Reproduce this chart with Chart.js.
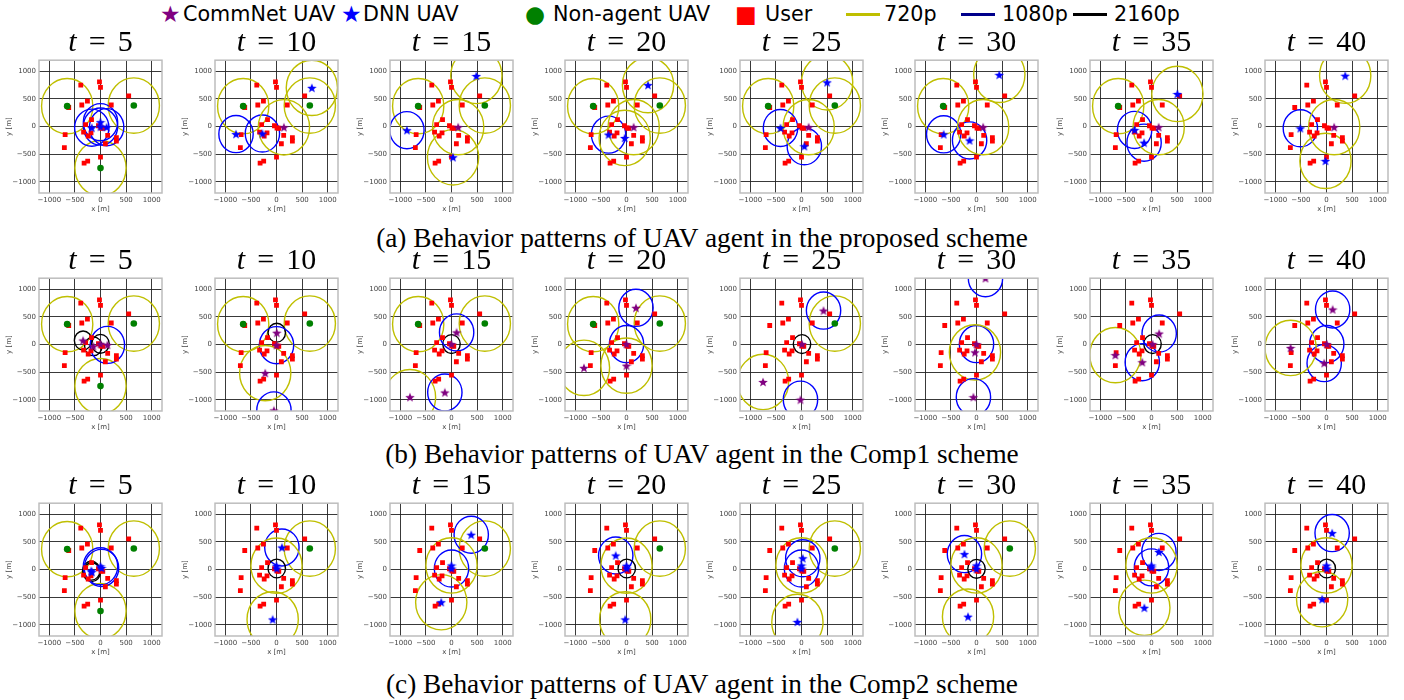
<!DOCTYPE html>
<html>
<head>
<meta charset="utf-8">
<script src="https://cdn.jsdelivr.net/npm/chart.js@4.4.0/dist/chart.umd.min.js"></script>
<style>
body { margin:0; background:#fff; width:1404px; height:700px; position:relative; overflow:hidden; font-family:"DejaVu Sans", sans-serif; }
canvas { position:absolute; }
.ttl { position:absolute; width:123px; text-align:center; font-family:"Liberation Serif", serif; font-size:30px; line-height:30px; white-space:nowrap; }
.ttl i { font-style:italic; }
.ttl span { margin:0 0.4em; }
.cap { position:absolute; left:0; width:1404px; text-align:center; font-family:"Liberation Serif", serif; font-size:27.3px; line-height:28px; }
.lg { position:absolute; top:0px; font-size:20.7px; line-height:28px; white-space:nowrap; }
.ln { position:absolute; top:13px; height:3px; width:34px; }
</style>
</head>
<body>
<span class="lg" style="left:160px;color:#800080;font-size:23px">★</span><span class="lg" style="left:183px">CommNet UAV</span>
<span class="lg" style="left:341px;color:#0000ff;font-size:23px">★</span><span class="lg" style="left:363px">DNN UAV</span>
<span class="lg" style="left:525px;color:#008000;font-size:23px">●</span><span class="lg" style="left:553px">Non-agent UAV</span>
<span class="lg" style="left:735px;color:#ff0000;font-size:23px">■</span><span class="lg" style="left:765px">User</span>
<div class="ln" style="left:846px;background:#bfbf00"></div><span class="lg" style="left:884px">720p</span>
<div class="ln" style="left:961px;background:#00008b"></div><span class="lg" style="left:1002px">1080p</span>
<div class="ln" style="left:1073px;background:#000"></div><span class="lg" style="left:1114px">2160p</span>

<script>
const TIMES = [5, 10, 15, 20, 25, 30, 35, 40];
const CAPTIONS = [
  "(a) Behavior patterns of UAV agent in the proposed scheme",
  "(b) Behavior patterns of UAV agent in the Comp1 scheme",
  "(c) Behavior patterns of UAV agent in the Comp2 scheme"
];
const TICKS = [-1000, -500, 0, 500, 1000];

// users (same in every panel)
const USER_X = [-20, 0, -385, 550, -255, -365, -620, 210, -175, -290, -40, 10, 45, -690, -705, -330, -240, -185, 140, 310, 310, 95, 0, -250, -320];
const USER_Y = [810, 710, 750, 555, 460, 390, 345, 390, 125, 35, 15, -25, -30, -145, -380, -100, -170, -115, -160, -200, -260, -310, -550, -625, -660];

// non-agent UAVs and which are still present at each t
const NONAGENT_X = [-650, 650, 0];
const NONAGENT_Y = [370, 380, -750];
const NONAGENT_PROPOSED = [[0,1,2],[0,1],[0,1],[0,1],[0,1],[0],[0],[]];
const NONAGENT_COMP1 = [[0,1,2],[0,1],[0,1],[0,1],[1],[],[],[]];
const NONAGENT_COMP2 = [[0,1,2],[1],[1],[1],[1],[1],[],[]];

// coverage radius [m] per resolution
const RES_NAMES = ['720p', '1080p', '2160p'];
const RES_RADIUS = [500, 335, 170];

// agent UAVs: [x, y, type (C = CommNet, D = DNN), resolution]
const UAV_PROPOSED = [
  [[-170,-20,'D','1080p'],[0,80,'D','1080p'],[0,0,'D','1080p'],[120,-10,'D','1080p']],
  [[-790,-135,'D','1080p'],[-275,-125,'D','1080p'],[145,-12,'C','720p'],[690,700,'D','720p']],
  [[485,915,'D','720p'],[-870,-65,'D','1080p'],[130,-10,'C','720p'],[30,-555,'D','720p']],
  [[420,750,'D','720p'],[-350,-145,'D','1080p'],[-35,-205,'D','720p'],[140,-10,'C','720p']],
  [[500,800,'D','720p'],[-410,-25,'D','1080p'],[55,-355,'D','1080p'],[140,-10,'C','720p']],
  [[445,935,'D','720p'],[-640,-140,'D','1080p'],[-135,-250,'D','1080p'],[130,-10,'C','720p']],
  [[505,590,'D','720p'],[-330,-60,'D','1080p'],[-145,-290,'D','1080p'],[140,-10,'C','720p']],
  [[365,920,'D','720p'],[-510,-30,'D','1080p'],[-20,-620,'D','720p'],[150,-10,'C','720p']]
];
const UAV_COMP1 = [
  [[-340,75,'C','2160p'],[-140,-30,'C','2160p'],[0,15,'C','2160p'],[135,-5,'C','1080p']],
  [[5,215,'C','2160p'],[0,-10,'C','1080p'],[-220,-515,'C','720p'],[-50,-1190,'C','1080p']],
  [[0,10,'C','2160p'],[100,220,'C','1080p'],[-810,-950,'C','720p'],[-130,-865,'C','1080p']],
  [[185,665,'C','1080p'],[0,10,'C','1080p'],[0,-380,'C','720p'],[-830,-420,'C','720p']],
  [[430,615,'C','1080p'],[10,10,'C','2160p'],[-750,-675,'C','720p'],[-20,-995,'C','1080p']],
  [[175,1200,'C','1080p'],[0,10,'C','1080p'],[-30,-140,'C','720p'],[-60,-950,'C','1080p']],
  [[20,10,'C','2160p'],[150,200,'C','1080p'],[-180,-318,'C','1080p'],[-705,-190,'C','720p']],
  [[120,635,'C','1080p'],[5,10,'C','1080p'],[-45,-335,'C','1080p'],[-700,-60,'C','720p']]
];
const UAV_COMP2 = [
  [[-180,-20,'D','2160p'],[-170,-45,'D','2160p'],[0,60,'D','1080p'],[20,30,'D','1080p']],
  [[105,400,'D','1080p'],[5,20,'D','2160p'],[0,70,'D','720p'],[-75,-900,'D','720p']],
  [[385,630,'D','1080p'],[0,20,'D','1080p'],[0,75,'D','720p'],[-200,-590,'D','720p']],
  [[-210,255,'D','1080p'],[5,20,'D','2160p'],[0,70,'D','720p'],[-25,-900,'D','720p']],
  [[25,205,'D','1080p'],[0,20,'D','1080p'],[0,75,'D','720p'],[-80,-945,'D','720p']],
  [[-235,280,'D','1080p'],[0,15,'D','2160p'],[0,75,'D','720p'],[-165,-850,'D','720p']],
  [[145,320,'D','1080p'],[0,40,'D','1080p'],[0,75,'D','720p'],[-140,-690,'D','720p']],
  [[110,660,'D','1080p'],[5,20,'D','2160p'],[0,75,'D','720p'],[-85,-535,'D','720p']]
];

const ROWS = [
  { uavs: UAV_PROPOSED, nonagent: NONAGENT_PROPOSED },
  { uavs: UAV_COMP1, nonagent: NONAGENT_COMP1 },
  { uavs: UAV_COMP2, nonagent: NONAGENT_COMP2 }
];

const RES_COLOR = { '720p': '#bfbf00', '1080p': '#0000ff', '2160p': '#000000' };
const PLOT_LEFT = [39, 215, 390, 565, 740, 915, 1090, 1265];
const PLOT_TOP = [58, 276, 501];
const PW = 123, PH = 135, CAP_Y = [238, 454, 684];

function makeStar(color, size) {
  const c = document.createElement('canvas');
  c.width = size; c.height = size;
  const g = c.getContext('2d');
  const r = size / 2, ri = r * 0.42;
  g.beginPath();
  for (let i = 0; i < 10; i++) {
    const a = -Math.PI / 2 + i * Math.PI / 5;
    const rr = i % 2 ? ri : r;
    g.lineTo(r + rr * Math.cos(a), r + 0.5 + rr * Math.sin(a));
  }
  g.closePath();
  g.fillStyle = color; g.fill();
  return c;
}
const STAR_C = makeStar('#800080', 10);
const STAR_D = makeStar('#0000ff', 10);

const coverage = {
  id: 'coverage',
  beforeDatasetsDraw(chart, args, opts) {
    const { ctx, chartArea: a, scales: { x, y } } = chart;
    ctx.save();
    ctx.beginPath(); ctx.rect(a.left, a.top, a.width, a.height); ctx.clip();
    opts.circles.forEach(c => {
      const cx = x.getPixelForValue(c.x), cy = y.getPixelForValue(c.y);
      const rx = Math.abs(x.getPixelForValue(c.x + c.r) - cx);
      const ry = Math.abs(y.getPixelForValue(c.y + c.r) - cy);
      ctx.beginPath();
      ctx.ellipse(cx, cy, rx, ry, 0, 0, 2 * Math.PI);
      ctx.strokeStyle = c.color; ctx.lineWidth = 1.4;
      ctx.stroke();
    });
    ctx.restore();
  },
  afterDraw(chart) {
    const { ctx, chartArea: a } = chart;
    ctx.save();
    ctx.strokeStyle = '#bdbdbd'; ctx.lineWidth = 1.5;
    ctx.strokeRect(a.left, a.top, a.width, a.height);
    ctx.restore();
  }
};

function axis(title) {
  return {
    type: 'linear', min: -1200, max: 1200,
    afterBuildTicks: s => { s.ticks = TICKS.map(v => ({ value: v })); },
    grid: { color: '#222', lineWidth: 0.9, drawTicks: false },
    border: { display: false },
    ticks: {
      padding: 3, color: '#444', font: { size: 7, family: 'DejaVu Sans' },
      maxRotation: 0, autoSkip: false,
      callback: v => String(v).replace('-', '\u2212')
    },
    title: { display: true, text: title, color: '#444', font: { size: 7, family: 'DejaVu Sans' }, padding: 0 }
  };
}

ROWS.forEach((row, r) => {
  TIMES.forEach((t, k) => {
    const L = PLOT_LEFT[k], T = PLOT_TOP[r];
    const cv = document.createElement('canvas');
    cv.width = 34 + PW + 12; cv.height = 5 + PH + 20;
    cv.style.left = (L - 34) + 'px'; cv.style.top = (T - 5) + 'px';
    document.body.appendChild(cv);

    const ttl = document.createElement('div');
    ttl.className = 'ttl';
    ttl.style.left = L + 'px'; ttl.style.top = (T - 32) + 'px';
    ttl.innerHTML = '<i>t</i><span>=</span>' + t;
    document.body.appendChild(ttl);

    const uavs = row.uavs[k];
    const present = row.nonagent[k];
    const circles = [];
    present.forEach(i => circles.push({ x: NONAGENT_X[i], y: NONAGENT_Y[i], r: RES_RADIUS[0], color: RES_COLOR['720p'] }));
    uavs.forEach(u => circles.push({ x: u[0], y: u[1], r: RES_RADIUS[RES_NAMES.indexOf(u[3])], color: RES_COLOR[u[3]] }));

    new Chart(cv, {
      type: 'scatter',
      data: {
        datasets: [
          { label: 'CommNet UAV', order: 0, pointStyle: STAR_C,
            data: uavs.filter(u => u[2] === 'C').map(u => ({ x: u[0], y: u[1] })) },
          { label: 'DNN UAV', order: 0, pointStyle: STAR_D,
            data: uavs.filter(u => u[2] === 'D').map(u => ({ x: u[0], y: u[1] })) },
          { label: 'Non-agent UAV', order: 1, pointStyle: 'circle', pointRadius: 3.3,
            backgroundColor: '#008000', borderWidth: 0,
            data: present.map(i => ({ x: NONAGENT_X[i], y: NONAGENT_Y[i] })) },
          { label: 'User', order: 2, pointStyle: 'rect', pointRadius: 3.4,
            backgroundColor: '#ff0000', borderWidth: 0,
            data: USER_X.map((x, i) => ({ x: x, y: USER_Y[i] })) }
        ]
      },
      options: {
        responsive: false, animation: false, events: [],
        layout: { padding: { left: 0, top: 5, right: 12, bottom: 0 } },
        scales: {
          x: Object.assign(axis('x [m]'), { afterFit: s => { s.height = 20; } }),
          y: Object.assign(axis('y [m]'), { afterFit: s => { s.width = 34; } })
        },
        plugins: { legend: { display: false }, tooltip: { enabled: false }, coverage: { circles: circles } }
      },
      plugins: [coverage]
    });
  });
  const cap = document.createElement('div');
  cap.className = 'cap';
  cap.style.top = (CAP_Y[r] - 14) + 'px';
  cap.textContent = CAPTIONS[r];
  document.body.appendChild(cap);
});
</script>
</body>
</html>
